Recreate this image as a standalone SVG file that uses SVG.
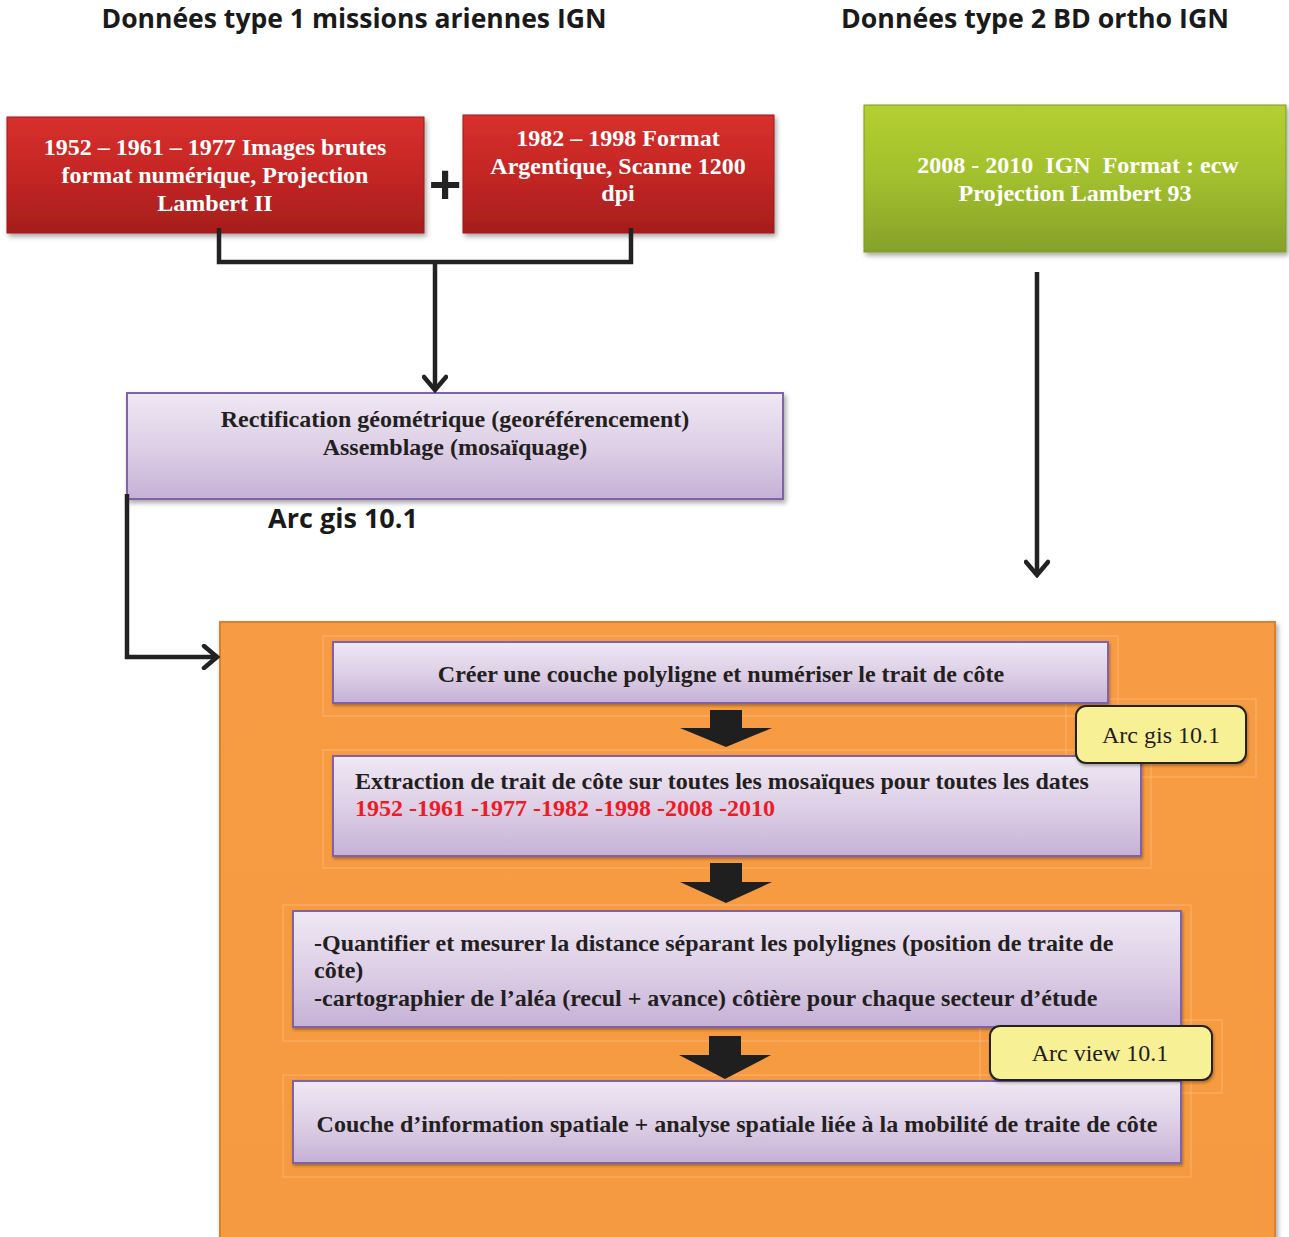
<svg xmlns="http://www.w3.org/2000/svg" width="1289" height="1237" viewBox="0 0 1289 1237">
<defs>
  <linearGradient id="gRed" x1="0" y1="0" x2="0" y2="1">
    <stop offset="0" stop-color="#D8302D"/>
    <stop offset="0.5" stop-color="#C42624"/>
    <stop offset="1" stop-color="#A61E1D"/>
  </linearGradient>
  <linearGradient id="gGreen" x1="0" y1="0" x2="0" y2="1">
    <stop offset="0" stop-color="#B3CF30"/>
    <stop offset="0.5" stop-color="#A2BF2E"/>
    <stop offset="1" stop-color="#86A12A"/>
  </linearGradient>
  <linearGradient id="gPurple" x1="0" y1="0" x2="0" y2="1">
    <stop offset="0" stop-color="#EFE8F4"/>
    <stop offset="0.55" stop-color="#DCCDE5"/>
    <stop offset="1" stop-color="#C5B1D6"/>
  </linearGradient>
  <linearGradient id="gOrange" x1="0" y1="0" x2="0" y2="1">
    <stop offset="0" stop-color="#F79C44"/>
    <stop offset="1" stop-color="#F59A40"/>
  </linearGradient>
  <filter id="shadow" x="-5%" y="-10%" width="110%" height="130%">
    <feDropShadow dx="2" dy="3" stdDeviation="2.5" flood-color="#000" flood-opacity="0.35"/>
  </filter>
  <filter id="lshadow" x="-5%" y="-10%" width="110%" height="130%">
    <feDropShadow dx="1" dy="2" stdDeviation="1.5" flood-color="#000" flood-opacity="0.3"/>
  </filter>
  <marker id="chev" viewBox="0 0 24 26" refX="21" refY="13" markerWidth="24" markerHeight="26" orient="auto" markerUnits="userSpaceOnUse">
    <path d="M8,2 L21,13 L8,24" fill="none" stroke="#222" stroke-width="4.5" stroke-linecap="round" stroke-linejoin="miter"/>
  </marker>
</defs>
<style>
  .title{font-family:"Open Sans","Noto Sans",sans-serif;font-weight:700;font-size:26px;fill:#1a1a1a}
  .wt{font-family:"Liberation Serif","Times New Roman",serif;font-weight:700;font-size:24px;fill:#ffffff;text-anchor:middle}
  .bt{font-family:"Liberation Serif","Times New Roman",serif;font-weight:700;font-size:24px;fill:#231f20}
  .rt{font-family:"Liberation Serif","Times New Roman",serif;font-weight:700;font-size:24px;fill:#ED1C24}
  .yt{font-family:"Liberation Serif","Times New Roman",serif;font-size:24px;fill:#231f20;text-anchor:middle}
  .conn{fill:none;stroke:#222;stroke-width:4.5}
  .pbox{fill:url(#gPurple);stroke:#7F62A8;stroke-width:2}
  .ybox{fill:#F8F094;stroke:#222;stroke-width:2}
  .blk{fill:#1f1f1f}
  .frame{fill:none;stroke:#FBC58C;stroke-width:1;stroke-opacity:0.6}
</style>

<text class="title" x="354" y="28" text-anchor="middle" textLength="505" lengthAdjust="spacingAndGlyphs">Données type 1 missions ariennes IGN</text>
<text class="title" x="1035" y="28" text-anchor="middle" textLength="388" lengthAdjust="spacingAndGlyphs">Données type 2 BD ortho IGN</text>

<g id="red1">
  <rect x="7" y="117" width="417" height="116" fill="url(#gRed)" stroke="#9A1C1B" stroke-width="1" filter="url(#shadow)"/>
  <text class="wt" x="215" y="155">1952 – 1961 – 1977 Images brutes</text>
  <text class="wt" x="215" y="183">format numérique, Projection</text>
  <text class="wt" x="215" y="211">Lambert II</text>
</g>
<g id="plus">
  <text x="445" y="203" text-anchor="middle" font-family="Liberation Sans, Arial, sans-serif" font-weight="700" font-size="56" fill="#222">+</text>
</g>
<g id="red2">
  <rect x="463" y="115" width="311" height="118" fill="url(#gRed)" stroke="#9A1C1B" stroke-width="1" filter="url(#shadow)"/>
  <text class="wt" x="618" y="146">1982 – 1998 Format</text>
  <text class="wt" x="618" y="174">Argentique, Scanne 1200</text>
  <text class="wt" x="618" y="201">dpi</text>
</g>
<g id="green">
  <rect x="864" y="105" width="422" height="147" fill="url(#gGreen)" stroke="#7E9A28" stroke-width="1" filter="url(#shadow)"/>
  <text class="wt" x="1078" y="173" xml:space="preserve">2008 - 2010  IGN  Format : ecw</text>
  <text class="wt" x="1075" y="201">Projection Lambert 93</text>
</g>

<g id="purple1">
  <rect class="pbox" x="127" y="393" width="656" height="106" filter="url(#shadow)"/>
  <text class="bt" x="455" y="427" text-anchor="middle">Rectification géométrique (georéférencement)</text>
  <text class="bt" x="455" y="455" text-anchor="middle">Assemblage (mosaïquage)</text>
</g>
<g id="arcgis-label">
  <text x="268" y="528" font-family="Open Sans, Noto Sans, sans-serif" font-weight="700" font-size="26" fill="#1a1a1a" textLength="150" lengthAdjust="spacingAndGlyphs">Arc gis 10.1</text>
</g>

<g id="orange">
  <rect x="220" y="622" width="1055" height="620" fill="url(#gOrange)" stroke="#D9822F" stroke-width="2" filter="url(#shadow)"/>
  <rect class="frame" x="323" y="636" width="795" height="80"/>
  <rect class="frame" x="323" y="750" width="828" height="118"/>
  <rect class="frame" x="283" y="905" width="908" height="136"/>
  <rect class="frame" x="283" y="1075" width="908" height="102"/>
  <rect class="frame" x="1066" y="699" width="190" height="78"/>
  <rect class="frame" x="980" y="1020" width="242" height="73"/>
</g>

<g id="stepA">
  <rect class="pbox" x="333" y="642" width="775" height="61" filter="url(#lshadow)"/>
  <text class="bt" x="721" y="682" text-anchor="middle">Créer une couche polyligne et numériser le trait de côte</text>
</g>
<g id="stepB">
  <rect class="pbox" x="333" y="756" width="808" height="100" filter="url(#lshadow)"/>
  <text class="bt" x="355" y="789">Extraction de trait de côte sur toutes les mosaïques pour toutes les dates</text>
  <text class="rt" x="355" y="816">1952 -1961 -1977 -1982 -1998 -2008 -2010</text>
</g>
<g id="stepC">
  <rect class="pbox" x="293" y="911" width="888" height="116" filter="url(#lshadow)"/>
  <text class="bt" x="314" y="951">-Quantifier et mesurer la distance séparant les polylignes (position de traite de</text>
  <text class="bt" x="314" y="978">côte)</text>
  <text class="bt" x="314" y="1006">-cartographier de l’aléa (recul + avance) côtière pour chaque secteur d’étude</text>
</g>
<g id="stepD">
  <rect class="pbox" x="293" y="1081" width="888" height="82" filter="url(#lshadow)"/>
  <text class="bt" x="737" y="1132" text-anchor="middle">Couche d’information spatiale + analyse spatiale liée à la mobilité de traite de côte</text>
</g>
<g id="callout1">
  <rect class="ybox" x="1076" y="706" width="170" height="57" rx="10" filter="url(#lshadow)"/>
  <text class="yt" x="1161" y="743">Arc gis 10.1</text>
</g>
<g id="callout2">
  <rect class="ybox" x="990" y="1026" width="222" height="54" rx="10" filter="url(#lshadow)"/>
  <text class="yt" x="1100" y="1061">Arc view 10.1</text>
</g>

<g id="connectors">
  <path class="conn" d="M219,228 V262 H631 V228"/>
  <path class="conn" d="M435,262 V390" marker-end="url(#chev)"/>
  <path class="conn" d="M127,494 V657 H217" marker-end="url(#chev)"/>
  <path class="conn" d="M1037,272 V575" marker-end="url(#chev)"/>
  <polygon class="blk" points="710,710 742,710 742,728 772,728 726,747 680,728 710,728"/>
  <polygon class="blk" points="710,863 742,863 742,882 772,882 726,903 680,882 710,882"/>
  <polygon class="blk" points="709,1036 741,1036 741,1055 771,1055 725,1079 679,1055 709,1055"/>
</g>
</svg>
